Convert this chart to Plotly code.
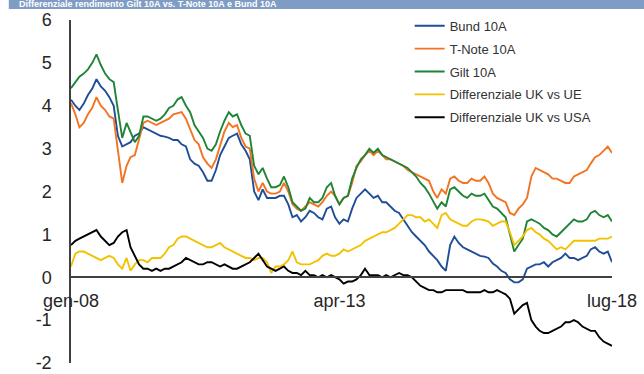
import pandas as pd
import plotly.graph_objects as go

# Monthly observations, Jan 2008 - Jul 2018 (last point at month end)
dates = list(pd.date_range("2008-01-01", periods=127, freq="MS")) + [pd.Timestamp("2018-07-31")]

bund_10a = [
    4.14, 4.00, 3.90, 4.05, 4.25, 4.40, 4.62, 4.45, 4.35, 4.20, 4.00, 3.30,
    3.05, 3.10, 3.15, 3.30, 3.35, 3.50, 3.45, 3.40, 3.35, 3.30, 3.28, 3.25,
    3.20, 3.20, 3.10, 3.05, 2.75, 2.65, 2.60, 2.45, 2.25, 2.25, 2.50, 2.85,
    3.05, 3.25, 3.30, 3.35, 3.10, 2.95, 2.75, 2.00, 1.80, 2.05, 1.85, 1.85,
    1.85, 1.90, 1.90, 1.70, 1.40, 1.45, 1.30, 1.40, 1.55, 1.50, 1.40, 1.35,
    1.60, 1.65, 1.40, 1.25, 1.35, 1.30, 1.60, 1.85, 1.95, 2.05, 1.95, 1.85,
    1.90, 1.75, 1.75, 1.65, 1.55, 1.50, 1.35, 1.20, 1.05, 0.95, 0.85, 0.75,
    0.60, 0.50, 0.40, 0.25, 0.15, 0.75, 0.95, 0.80, 0.70, 0.65, 0.60, 0.55,
    0.50, 0.48, 0.45, 0.32, 0.25, 0.15, 0.10, -0.05, -0.12, -0.12, -0.05, 0.20,
    0.25, 0.30, 0.30, 0.35, 0.25, 0.35, 0.40, 0.45, 0.55, 0.45, 0.45, 0.40,
    0.45, 0.50, 0.65, 0.70, 0.60, 0.55, 0.60, 0.35,
]

tnote_10a = [
    4.06, 3.80, 3.50, 3.60, 3.80, 3.95, 4.20, 4.00, 3.90, 3.75, 3.70, 3.00,
    2.20, 2.60, 2.80, 2.85, 3.20, 3.60, 3.65, 3.60, 3.55, 3.60, 3.65, 3.70,
    3.80, 3.82, 3.85, 3.70, 3.45, 3.20, 3.10, 2.80, 2.65, 2.55, 2.75, 3.10,
    3.40, 3.60, 3.50, 3.55, 3.25, 3.05, 3.00, 2.30, 2.00, 2.20, 2.00, 1.95,
    1.95, 2.00, 2.20, 2.00, 1.70, 1.60, 1.55, 1.65, 1.75, 1.70, 1.65, 1.75,
    1.90, 2.00, 1.90, 1.70, 1.85, 1.90, 2.20, 2.60, 2.70, 2.85, 2.95, 2.85,
    2.95, 2.85, 2.75, 2.75, 2.70, 2.65, 2.60, 2.50, 2.45, 2.40, 2.35, 2.30,
    2.25, 2.00, 1.85, 2.05, 1.95, 2.30, 2.35, 2.25, 2.20, 2.20, 2.30, 2.25,
    2.25, 2.35, 2.20, 1.95, 1.85, 1.80, 1.75, 1.50, 1.45, 1.60, 1.70, 1.85,
    2.35, 2.55, 2.50, 2.45, 2.40, 2.30, 2.30, 2.25, 2.20, 2.20, 2.35, 2.40,
    2.45, 2.50, 2.65, 2.80, 2.85, 2.95, 3.05, 2.90,
]

gilt_10a = [
    4.41, 4.55, 4.68, 4.75, 4.85, 5.00, 5.20, 4.95, 4.75, 4.62, 4.55, 3.90,
    3.25, 3.60, 3.40, 3.15, 3.30, 3.75, 3.75, 3.70, 3.65, 3.70, 3.80, 3.95,
    4.00, 4.15, 4.20, 4.00, 3.85, 3.55, 3.40, 3.25, 3.00, 2.95, 3.10, 3.40,
    3.65, 3.85, 3.75, 3.80, 3.55, 3.35, 3.30, 2.60, 2.40, 2.55, 2.30, 2.10,
    2.10, 2.15, 2.35, 2.10, 1.75, 1.65, 1.55, 1.60, 1.85, 1.75, 1.75, 1.85,
    2.10, 2.20, 1.90, 1.70, 1.85, 1.90, 2.30, 2.55, 2.75, 2.85, 3.00, 2.90,
    3.00, 2.85, 2.80, 2.75, 2.70, 2.65, 2.60, 2.55, 2.45, 2.35, 2.20, 2.10,
    1.95, 1.75, 1.60, 1.75, 1.65, 2.05, 2.10, 2.00, 1.90, 1.85, 1.95, 1.90,
    1.90, 1.95, 1.80, 1.65, 1.60, 1.50, 1.40, 1.00, 0.60, 0.75, 0.90, 1.30,
    1.35, 1.30, 1.25, 1.15, 1.10, 1.00, 0.95, 1.05, 1.15, 1.25, 1.35, 1.30,
    1.30, 1.35, 1.50, 1.55, 1.45, 1.40, 1.45, 1.30,
]

diff_uk_ue = [
    0.25, 0.55, 0.60, 0.60, 0.55, 0.50, 0.45, 0.40, 0.45, 0.50, 0.45, 0.30,
    0.20, 0.45, 0.15, 0.30, 0.40, 0.40, 0.35, 0.45, 0.45, 0.45, 0.55, 0.70,
    0.75, 0.90, 0.95, 0.95, 0.90, 0.85, 0.80, 0.75, 0.70, 0.70, 0.75, 0.80,
    0.70, 0.65, 0.60, 0.55, 0.50, 0.45, 0.45, 0.40, 0.45, 0.45, 0.35, 0.10,
    0.25, 0.25, 0.30, 0.40, 0.60, 0.35, 0.30, 0.30, 0.30, 0.35, 0.40, 0.50,
    0.55, 0.50, 0.50, 0.55, 0.65, 0.60, 0.65, 0.70, 0.75, 0.85, 0.90, 0.95,
    1.00, 1.05, 1.05, 1.10, 1.15, 1.25, 1.35, 1.45, 1.45, 1.40, 1.40, 1.30,
    1.35, 1.25, 1.15, 1.45, 1.50, 1.35, 1.30, 1.25, 1.20, 1.20, 1.30, 1.35,
    1.35, 1.33, 1.30, 1.20, 1.25, 1.30, 1.30, 1.05, 0.75, 0.85, 0.95, 1.10,
    1.15, 1.05, 1.00, 0.90, 0.85, 0.75, 0.65, 0.70, 0.65, 0.75, 0.85, 0.85,
    0.85, 0.85, 0.85, 0.85, 0.90, 0.90, 0.90, 0.95,
]

diff_uk_usa = [
    0.75, 0.85, 0.90, 0.95, 1.00, 1.05, 1.10, 0.95, 0.85, 0.75, 0.80, 0.95,
    1.05, 1.10, 0.70, 0.50, 0.30, 0.20, 0.20, 0.15, 0.20, 0.15, 0.20, 0.20,
    0.25, 0.30, 0.35, 0.45, 0.40, 0.35, 0.30, 0.30, 0.35, 0.35, 0.30, 0.25,
    0.30, 0.25, 0.20, 0.20, 0.25, 0.30, 0.35, 0.45, 0.55, 0.40, 0.25, 0.20,
    0.15, 0.20, 0.25, 0.15, 0.10, 0.10, 0.05, 0.15, 0.05, 0.05, 0.00, 0.05,
    0.00, 0.05, 0.00, -0.05, -0.15, -0.10, -0.10, -0.05, 0.05, 0.20, 0.05, 0.05,
    0.05, 0.00, 0.05, 0.00, 0.05, 0.10, 0.05, 0.05, 0.00, -0.10, -0.20, -0.25,
    -0.30, -0.30, -0.35, -0.35, -0.30, -0.30, -0.30, -0.30, -0.30, -0.35, -0.35, -0.35,
    -0.35, -0.30, -0.35, -0.35, -0.30, -0.35, -0.40, -0.50, -0.85, -0.75, -0.65, -0.60,
    -1.00, -1.15, -1.25, -1.30, -1.30, -1.25, -1.20, -1.15, -1.05, -1.05, -1.00, -1.05,
    -1.15, -1.20, -1.25, -1.25, -1.40, -1.50, -1.55, -1.60,
]

series_names = ["Bund 10A", "T-Note 10A", "Gilt 10A",
                "Differenziale UK vs UE", "Differenziale UK vs USA"]
series_values = [bund_10a, tnote_10a, gilt_10a, diff_uk_ue, diff_uk_usa]
series_colors = ["#1f4e96", "#f47321", "#1f8436", "#f2c200", "#000000"]

y_ticks = [-2, -1, 0, 1, 2, 3, 4, 5, 6]
y_tick_labels = ["-2", "-1", "0", "1", "2", "3", "4", "5", "6"]
x_tick_dates = ["2008-01-01", "2013-04-01", "2018-07-31"]
x_tick_labels = ["gen-08", "apr-13", "lug-18"]
title_text = "Differenziale rendimento Gilt 10A vs. T-Note 10A e Bund 10A"

FONT = "Liberation Sans, Arial, sans-serif"

fig = go.Figure()
for name, vals, col in zip(series_names, series_values, series_colors):
    fig.add_trace(go.Scatter(
        x=dates, y=vals, name=name, mode="lines",
        line=dict(color=col, width=1.9),
        legendgroup=name,
    ))

fig.update_layout(
    width=644, height=374,
    margin=dict(l=71, r=32, t=20, b=11),
    paper_bgcolor="white", plot_bgcolor="white",
    font=dict(family=FONT, color="#262626"),
    showlegend=True,
    legend=dict(
        x=0.626, y=1.027, xanchor="left", yanchor="top",
        bgcolor="rgba(0,0,0,0)", font=dict(size=13, color="#333333"),
        tracegroupgap=3,
    ),
    xaxis=dict(
        type="date", range=["2008-01-01", "2018-07-31"],
        anchor="free", position=0.25, automargin=False,
        showline=True, linecolor="#404040", linewidth=1.5,
        showgrid=False, zeroline=False, ticks="",
        tickvals=x_tick_dates, ticktext=x_tick_labels,
        tickfont=dict(size=18, color="#262626"),
        ticklabelstandoff=7,
    ),
    yaxis=dict(
        range=[-2, 6], tickvals=y_ticks, ticktext=y_tick_labels,
        automargin=False,
        showline=True, linecolor="#404040", linewidth=1.5,
        showgrid=False, zeroline=False, ticks="",
        tickfont=dict(size=18, color="#262626"),
        ticklabelstandoff=14,
    ),
    shapes=[dict(
        type="rect", xref="paper", yref="paper",
        x0=-0.115, x1=1.06, y0=1.032, y1=1.06,
        fillcolor="#7f9cc4", line=dict(width=0), layer="below",
    )],
    annotations=[dict(
        text=title_text, xref="paper", yref="paper",
        x=-0.1, y=1.0455, xanchor="left", yanchor="middle",
        showarrow=False,
        font=dict(family=FONT, size=9, color="white", weight="bold"),
    )],
)

fig.write_html("out.html")
